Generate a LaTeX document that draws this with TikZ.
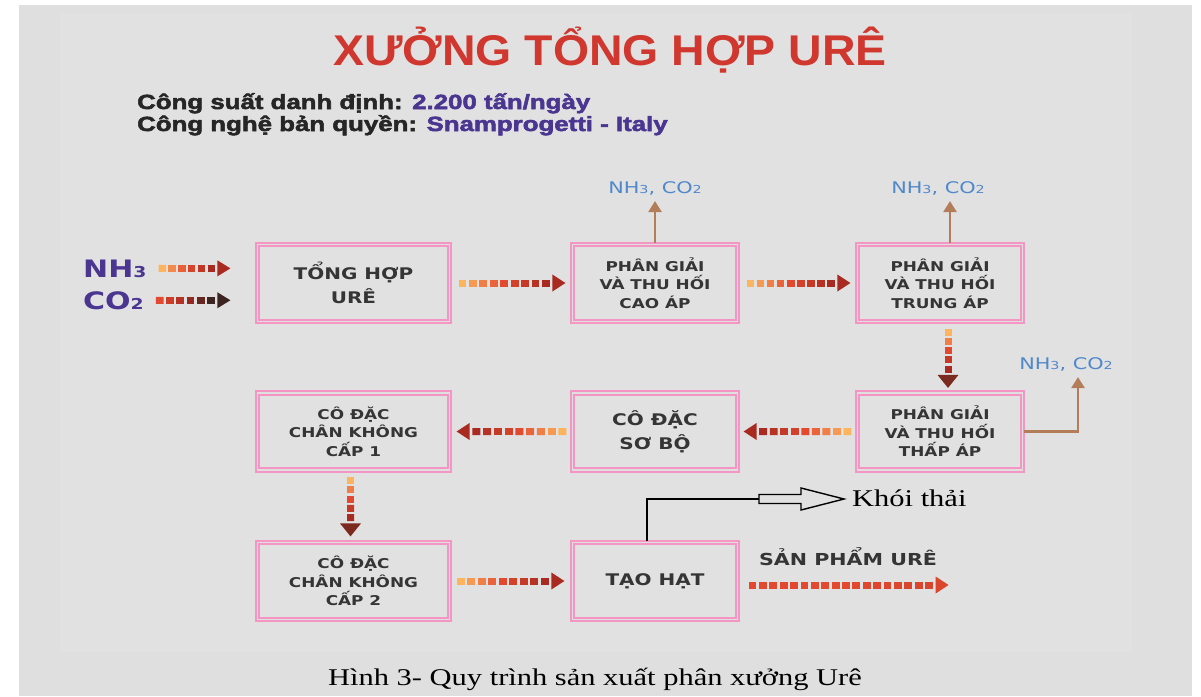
\documentclass[tikz,border=0pt]{standalone}
\usepackage{fontspec}
\usetikzlibrary{calc,arrows.meta}
\setmainfont{Liberation Sans}
\newfontfamily\titlefont{Liberation Sans Bold}[FakeStretch=1.08]
\newfontfamily\headfont{Liberation Sans Bold}[FakeStretch=1.26,FakeBold=2.6]
\newfontfamily\boxfont{DejaVu Sans Bold}[FakeStretch=1.25]
\newfontfamily\labfont{DejaVu Sans}[FakeStretch=1.3]
\newfontfamily\capfont{Liberation Serif}[FakeStretch=1.27]
\definecolor{bg}{HTML}{DFDFDF}
\definecolor{bgin}{HTML}{E1E1E1}
\definecolor{pinkc}{HTML}{F495C3}
\definecolor{boxtxt}{HTML}{353535}
\definecolor{titlered}{HTML}{D0382F}
\definecolor{headblk}{HTML}{262626}
\definecolor{purp}{HTML}{4A3590}
\definecolor{labblue}{HTML}{5088CC}
\definecolor{brownc}{HTML}{B47D5A}
\definecolor{gOr}{HTML}{FDB45E}
\definecolor{gRd}{HTML}{E2492E}
\definecolor{gDk}{HTML}{A82A20}
\definecolor{gBr}{HTML}{7A2A1E}
\definecolor{gBk}{HTML}{3C2420}
% gradient dashed arrow: from, to, n, c0, c1, c2, head colour, head half width
\newcommand\garrow[8]{%
  \coordinate (gs) at #1;
  \coordinate (gt) at #2;
  \coordinate (gb) at ($(gt)!13pt!(gs)$);
  \foreach \i in {1,...,#3}{%
    \pgfmathsetmacro\ta{(\i-1)/#3}%
    \pgfmathsetmacro\tb{(\i-0.25)/#3}%
    \pgfmathsetmacro\q{(\i-1)/(#3-1)}%
    \pgfmathtruncatemacro\pa{min(100,200*\q)}%
    \pgfmathtruncatemacro\pb{max(0,200*\q-100)}%
    \draw[line width=7pt,color={#6!\pb!#5!\pa!#4}] ($(gs)!\ta!(gb)$) -- ($(gs)!\tb!(gb)$);%
  }%
  \fill[#7] (gt) -- ($(gb)!#8!90:(gt)$) -- ($(gb)!#8!-90:(gt)$) -- cycle;%
}
\tikzset{
  box/.style={draw=pinkc, line width=2.2pt, double=bg, double distance=1.3pt,
    align=center, text=boxtxt, inner sep=0pt, minimum height=77pt},
  wbox/.style={box, minimum width=192pt},
  nbox/.style={box, minimum width=165pt},
  txts/.style={font=\boxfont\fontsize{13.5}{18.5}\selectfont},
  txtb/.style={font=\boxfont\fontsize{16}{23.5}\selectfont},
  lab/.style={font=\labfont\fontsize{16}{18}\selectfont, text=labblue, inner sep=2pt},
  brarrow/.style={draw=brownc, line width=2.5pt, -{Triangle[width=13pt,length=11pt]}},
  gas/.style={font=\boxfont\fontsize{24}{24}\selectfont, text=purp, inner sep=2pt},
}
\newcommand\smallsub[1]{{\fontsize{15}{15}\selectfont #1}}
\newcommand\labsub[1]{{\fontsize{11}{11}\selectfont #1}}
\begin{document}
\begin{tikzpicture}[x=1pt,y=-1pt]
\useasboundingbox (0,0) rectangle (1201,696);
\fill[white] (0,0) rectangle (1201,696);
\fill[bg] (19,5) rectangle (1192,696);
\fill[bgin] (60,13) rectangle (1132,652);

% title and header
\node[anchor=base, inner sep=0, text=titlered, font=\titlefont\fontsize{43}{43}\selectfont] (title) at (610,65) {XƯỞNG TỔNG HỢP URÊ};
\node[anchor=base west, inner sep=0, font=\headfont\fontsize{20.5}{20.5}\selectfont] (h1) at (137,109)
  {\textcolor{headblk}{Công suất danh định:} \textcolor{purp}{2.200 tấn/ngày}};
\node[anchor=base west, inner sep=0, font=\headfont\fontsize{20.5}{20.5}\selectfont] (h2) at (137,131)
  {\textcolor{headblk}{Công nghệ bản quyền:} \textcolor{purp}{Snamprogetti - Italy}};

% boxes
\node[wbox, txtb] (b1) at (353.5,283) {TỔNG HỢP\\URÊ};
\node[nbox, txts] (b2) at (655,283) {PHÂN GIẢI\\VÀ THU HỐI\\CAO ÁP};
\node[nbox, txts] (b3) at (940,283) {PHÂN GIẢI\\VÀ THU HỐI\\TRUNG ÁP};
\node[wbox, txts] (b4) at (353.5,431.5) {CÔ ĐẶC\\CHÂN KHÔNG\\CẤP 1};
\node[nbox, txtb] (b5) at (655,431.5) {CÔ ĐẶC\\SƠ BỘ};
\node[nbox, txts] (b6) at (940,431.5) {PHÂN GIẢI\\VÀ THU HỐI\\THẤP ÁP};
\node[wbox, txts] (b7) at (353.5,581) {CÔ ĐẶC\\CHÂN KHÔNG\\CẤP 2};
\node[nbox, txtb] (b8) at (655,581) {TẠO HẠT};

% inputs
\node[gas, anchor=base west] (nh3) at (81,277) {NH\smallsub{3}};
\node[gas, anchor=base west] (co2) at (81,309) {CO\smallsub{2}};
\garrow{($(nh3.east)+(10,0)$)}{($(nh3.east -| b1.west)+(-26,0)$)}{6}{gOr}{gRd}{gDk}{gDk}{8pt}
\garrow{($(co2.east)+(10,0)$)}{($(co2.east -| b1.west)+(-26,0)$)}{6}{gRd}{gDk}{gBk}{gBk}{8pt}

% main flow
\garrow{($(b1.east)+(8,0)$)}{($(b2.west)+(-6,0)$)}{9}{gOr}{gRd}{gDk}{gDk}{8.5pt}
\garrow{($(b2.east)+(8,0)$)}{($(b3.west)+(-6,0)$)}{9}{gOr}{gRd}{gDk}{gDk}{8.5pt}
\garrow{($(b3.south)+(8,6)$)}{($(b6.north)+(8,-4)$)}{5}{gOr}{gRd}{gDk}{gBr}{10.5pt}
\garrow{($(b6.west)+(-5,0)$)}{($(b5.east)+(5,0)$)}{9}{gOr}{gRd}{gDk}{gDk}{8.5pt}
\garrow{($(b5.west)+(-5,0)$)}{($(b4.east)+(6,0)$)}{9}{gOr}{gRd}{gDk}{gDk}{8.5pt}
\garrow{($(b4.south)+(-3,6)$)}{($(b7.north)+(-3,-5)$)}{5}{gOr}{gRd}{gDk}{gBr}{10.5pt}
\garrow{($(b7.east)+(6,0)$)}{($(b8.west)+(-7,0)$)}{9}{gOr}{gRd}{gDk}{gDk}{8.5pt}

% product
\node[anchor=base, inner sep=0, text=boxtxt, font=\boxfont\fontsize{16.5}{16.5}\selectfont] (sp) at (848,565) {SẢN PHẨM URÊ};
\garrow{($(b8.east)+(10,4)$)}{($(b8.east)+(210,4)$)}{18}{gRd}{gRd}{gRd!85!gDk}{gRd!88!gDk}{8.5pt}

% off-gas labels
\node[lab, anchor=base] (n1) at (655,193) {NH\labsub{3}, CO\labsub{2}};
\node[lab, anchor=base] (n2) at (938,193) {NH\labsub{3}, CO\labsub{2}};
\node[lab, anchor=base] (n3) at (1066,369) {NH\labsub{3}, CO\labsub{2}};
\draw[brarrow, shorten >=4pt] (b2.north) -- (b2.north |- n1.south);
\draw[brarrow, shorten >=4pt] ($(b3.north)+(10,0)$) -- ($(b3.north |- n2.south)+(10,0)$);
\draw[brarrow, shorten >=4pt] (b6.east) -| ($(n3.south)+(12,0)$);

% smoke
\coordinate (ka) at (759,499);
\draw[line width=1.6pt] ($(b8.north)+(-8,0)$) |- (ka);
\draw[line width=1.4pt, fill=bgin] ($(ka)+(0,-4.5)$) -- ($(ka)+(42,-4.5)$) -- ($(ka)+(42,-11)$)
  -- ($(ka)+(85,0)$) -- ($(ka)+(42,11)$) -- ($(ka)+(42,4.5)$) -- ($(ka)+(0,4.5)$) -- cycle;
\node[anchor=base west, inner sep=0, font=\capfont\fontsize{24}{24}\selectfont] (kt) at (852,506) {Khói thải};

% caption
\node[anchor=base, inner sep=0, font=\capfont\fontsize{24}{24}\selectfont] (cap) at (595,685) {Hình 3- Quy trình sản xuất phân xưởng Urê};
\end{tikzpicture}
\end{document}
